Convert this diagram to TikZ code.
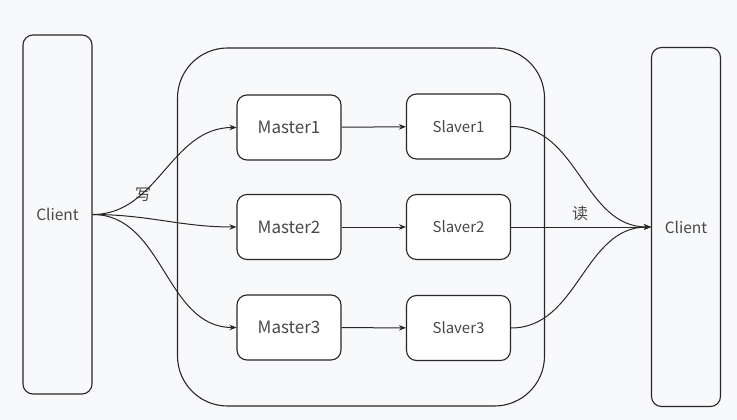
\documentclass[tikz,border=0pt]{standalone}
\usepackage{fontspec}
\setmainfont{Noto Sans CJK SC}
\usetikzlibrary{arrows.meta}
\definecolor{bg}{HTML}{F8F9FB}
\definecolor{ink}{HTML}{2A2627}
\begin{document}
\begin{tikzpicture}[x=1pt,y=-1pt,
  box/.style={draw=ink, line width=1.1pt, rounded corners=10pt, fill=white, minimum width=104pt, minimum height=65pt, inner sep=0pt, text=ink!85},
  client/.style={draw=ink, line width=1.1pt, rounded corners=10pt, minimum width=69pt, minimum height=359pt, inner sep=0pt, font=\fontsize{15.5}{17}\selectfont, text=ink!85},
  link/.style={draw=ink, line width=1pt, -{Stealth[length=7pt,width=5.5pt]}}]
\fill[bg] (0,0) rectangle (737,420);
\useasboundingbox (0,0) rectangle (737,420);
\node[draw=ink, line width=1.1pt, rounded corners=50pt, minimum width=367pt, minimum height=358pt] (cluster) at (361,227) {};
\node[client] (cin) at (57.5,214.5) {Client};
\node[client] (cout) at (686,227) {Client};
\node[box, font=\fontsize{17}{19}\selectfont] (m1) at (289,127.5) {Master1};
\node[box, font=\fontsize{17}{19}\selectfont] (m2) at (289,227) {Master2};
\node[box, font=\fontsize{17}{19}\selectfont] (m3) at (289,327.5) {Master3};
\node[box, font=\fontsize{15}{17}\selectfont] (s1) at (458.5,126.5) {Slaver1};
\node[box, font=\fontsize{15}{17}\selectfont] (s2) at (458.5,227) {Slaver2};
\node[box, font=\fontsize{15}{17}\selectfont] (s3) at (458.5,328) {Slaver3};
\node[font=\fontsize{16}{18}\selectfont, text=ink!85] (write) at (143,195) {写};
\node[font=\fontsize{16}{18}\selectfont, text=ink!85] (read) at (580,213) {读};

\draw[link] (cin.east) to[out=0,in=180] (m1.west);
\draw[link] (cin.east) to[out=0,in=180] (m2.west);
\draw[link] (cin.east) to[out=0,in=180] (m3.west);
\draw[link] (m1) -- (s1);
\draw[link] (m2) -- (s2);
\draw[link] (m3) -- (s3);
\draw[link] (s1.east) to[out=0,in=180] (cout.west);
\draw[link] (s2.east) -- (cout.west);
\draw[link] (s3.east) to[out=0,in=180] (cout.west);
\end{tikzpicture}
\end{document}
